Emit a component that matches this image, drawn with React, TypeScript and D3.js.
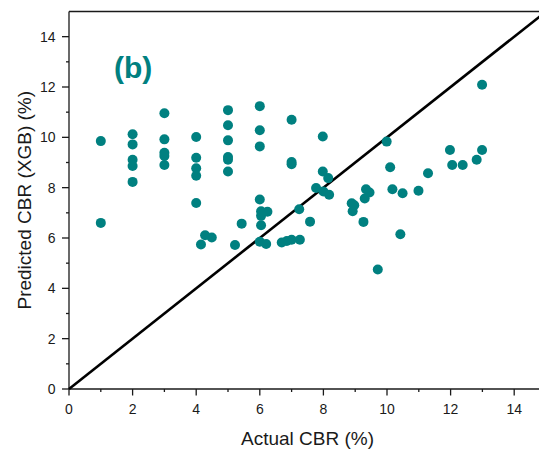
import React from "react";
import * as d3 from "d3";

const actualCBR = [
  1.0, 1.0, 2.0, 2.0, 2.0, 2.0, 2.0, 3.0, 3.0, 3.0, 3.0, 3.0, 4.0, 4.0, 4.0, 4.0, 4.0,
  4.15, 4.28, 4.49, 5.0, 5.0, 5.0, 5.0, 5.0, 5.0, 5.22, 5.43, 6.0, 6.0, 6.0, 6.0,
  6.04, 6.24, 6.04, 6.04, 6.0, 6.2, 6.69, 6.85, 7.0, 7.26, 7.0, 7.0, 7.0, 7.24, 7.58,
  7.77, 8.0, 8.18, 8.15, 7.98, 7.98, 8.89, 8.97, 8.92, 9.26, 9.34, 9.45, 9.3, 9.71,
  9.99, 10.1, 10.17, 10.42, 10.49, 10.99, 11.29, 11.98, 12.05, 12.38, 12.82, 12.99, 12.99,
];
const predictedCBR = [
  9.85, 6.6, 10.12, 9.72, 9.11, 8.86, 8.23, 10.96, 9.92, 9.39, 9.26, 8.9, 10.01, 9.19,
  8.77, 8.47, 7.39, 5.74, 6.11, 6.02, 11.08, 10.48, 9.88, 9.22, 9.11, 8.64, 5.72, 6.57,
  11.24, 10.28, 9.64, 7.53, 7.06, 7.04, 6.88, 6.51, 5.85, 5.76, 5.82, 5.88, 5.93, 5.93,
  10.7, 9.02, 8.93, 7.14, 6.65, 7.99, 7.85, 7.72, 8.38, 8.64, 10.03, 7.38, 7.3, 7.06,
  6.64, 7.94, 7.81, 7.57, 4.75, 9.83, 8.81, 7.94, 6.15, 7.78, 7.88, 8.57, 9.5, 8.9,
  8.9, 9.11, 9.5, 12.09,
];
const xTicks = [0, 2, 4, 6, 8, 10, 12, 14];
const yTicks = [0, 2, 4, 6, 8, 10, 12, 14];
const minorTicks = [1, 3, 5, 7, 9, 11, 13];
const refLine = [0, 15];

const W = 539;
const H = 453;
const FONT = "Arial, 'Liberation Sans', sans-serif";
const TEAL = "#008080";

export default function App() {
  const x = d3.scaleLinear().domain([0, 15]).range([69, 546]);
  const y = d3.scaleLinear().domain([0, 15]).range([389, 11.5]);
  const line = d3
    .line<number>()
    .x((d) => x(d))
    .y((d) => y(d));
  const axisColor = "#1a1a1a";

  return (
    <svg
      width={W}
      height={H}
      style={{ position: "absolute", left: 0, top: 0, background: "#fff" }}
      fontFamily={FONT}
    >
      <line x1={x(0)} x2={W} y1={y(15)} y2={y(15)} stroke={axisColor} strokeWidth={1.3} />
      <line x1={x(0)} x2={x(0)} y1={y(0)} y2={y(15)} stroke={axisColor} strokeWidth={1.3} />
      <line x1={x(0)} x2={W} y1={y(0)} y2={y(0)} stroke={axisColor} strokeWidth={1.3} />

      {xTicks.map((t) => (
        <g key={"xt" + t}>
          <line x1={x(t)} x2={x(t)} y1={y(0)} y2={y(0) + 6.5} stroke={axisColor} strokeWidth={1.3} />
          <text x={x(t)} y={y(0) + 25} textAnchor="middle" fontSize={14} fill="#1a1a1a">
            {t}
          </text>
        </g>
      ))}
      {minorTicks.map((t) => (
        <line key={"xm" + t} x1={x(t)} x2={x(t)} y1={y(0)} y2={y(0) + 3} stroke={axisColor} strokeWidth={1.3} />
      ))}
      {yTicks.map((t) => (
        <g key={"yt" + t}>
          <line x1={x(0) - 7} x2={x(0)} y1={y(t)} y2={y(t)} stroke={axisColor} strokeWidth={1.3} />
          <text x={x(0) - 13.5} y={y(t) + 5.1} textAnchor="end" fontSize={14} fill="#1a1a1a">
            {t}
          </text>
        </g>
      ))}
      {minorTicks.map((t) => (
        <line key={"ym" + t} x1={x(0) - 3} x2={x(0)} y1={y(t)} y2={y(t)} stroke={axisColor} strokeWidth={1.3} />
      ))}

      <path d={line(refLine) || ""} stroke="#000" strokeWidth={2.6} fill="none" />

      {actualCBR.map((a, i) => (
        <circle key={i} cx={x(a)} cy={y(predictedCBR[i])} r={5} fill={TEAL} />
      ))}

      <text x={114} y={78} fontSize={30} fontWeight="bold" fill={TEAL}>
        (b)
      </text>

      <text x={(69 + 546) / 2} y={445} textAnchor="middle" fontSize={19} fill="#1a1a1a">
        Actual CBR (%)
      </text>
      <text
        transform={`translate(30.5, ${(389 + 11.5) / 2}) rotate(-90)`}
        textAnchor="middle"
        fontSize={19}
        fill="#1a1a1a"
      >
        Predicted CBR (XGB) (%)
      </text>
    </svg>
  );
}
